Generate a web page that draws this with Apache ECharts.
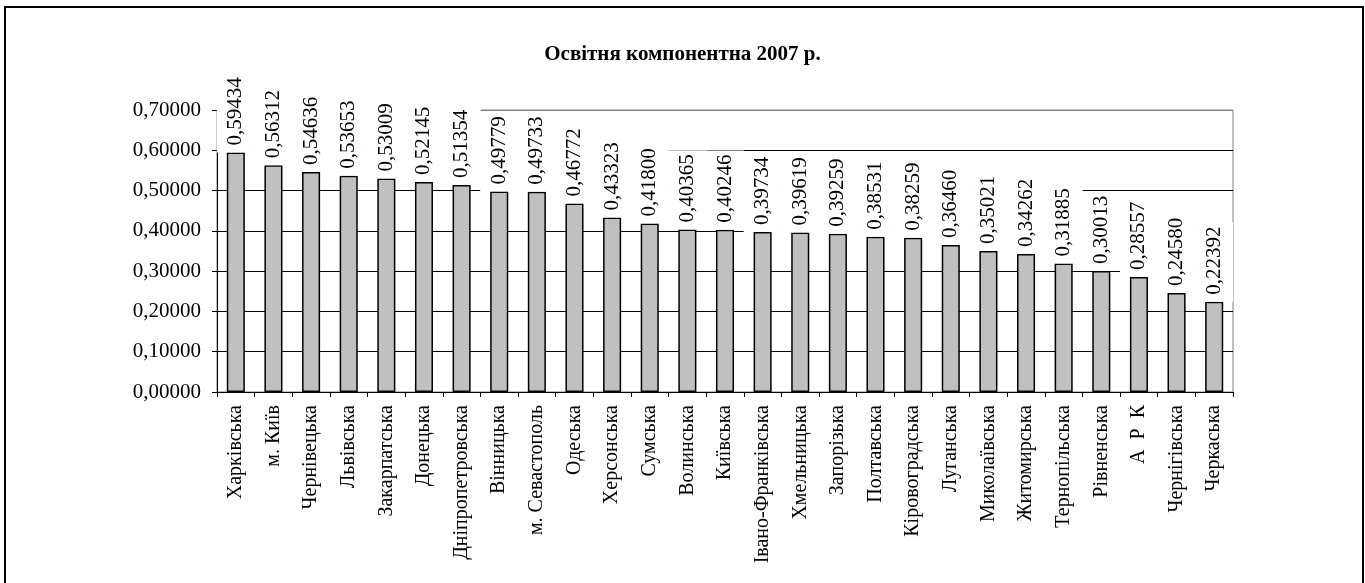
<!DOCTYPE html>
<html>
<head>
<meta charset="utf-8">
<script src="https://cdn.jsdelivr.net/npm/echarts@6/dist/echarts.min.js"></script>
<style>
  html, body { margin: 0; padding: 0; background: #fff; }
  #chart { width: 1365px; height: 583px; }
</style>
</head>
<body>
<div id="chart"></div>
<script>
// Regions of Ukraine, educational component index, 2007
const regions = [
  'Харківська', 'м. Київ', 'Чернівецька', 'Львівська', 'Закарпатська',
  'Донецька', 'Дніпропетровська', 'Вінницька', 'м. Севастополь', 'Одеська',
  'Херсонська', 'Сумська', 'Волинська', 'Київська', 'Івано-Франківська',
  'Хмельницька', 'Запорізька', 'Полтавська', 'Кіровоградська', 'Луганська',
  'Миколаївська', 'Житомирська', 'Тернопільська', 'Рівненська', 'А  Р  К',
  'Чернігівська', 'Черкаська'
];
const indexValues = [
  0.59434, 0.56312, 0.54636, 0.53653, 0.53009,
  0.52145, 0.51354, 0.49779, 0.49733, 0.46772,
  0.43323, 0.41800, 0.40365, 0.40246, 0.39734,
  0.39619, 0.39259, 0.38531, 0.38259, 0.36460,
  0.35021, 0.34262, 0.31885, 0.30013, 0.28557,
  0.24580, 0.22392
];
const chartTitle = 'Освітня компонентна 2007 р.';
const yMin = 0, yMax = 0.7, yStep = 0.1;

const fmt = v => Number(v).toFixed(5).replace('.', ',');
const serif = '"Liberation Serif", "Times New Roman", serif';

const chart = echarts.init(document.getElementById('chart'), null, { renderer: 'canvas' });
chart.setOption({
  animation: false,
  backgroundColor: '#fff',
  textStyle: { fontFamily: serif },
  title: {
    text: chartTitle,
    left: 'center',
    top: 39,
    textStyle: { fontFamily: serif, fontWeight: 'bold', fontSize: 21, color: '#000' }
  },
  graphic: [{
    type: 'rect',
    shape: { x: 5, y: 7, width: 1358, height: 620 },
    style: { fill: 'none', stroke: '#000', lineWidth: 2 },
    silent: true,
    z: 100
  }],
  grid: {
    left: 217, right: 132, top: 110, bottom: 191,
    show: true, borderColor: '#808080', borderWidth: 1, backgroundColor: 'transparent'
  },
  xAxis: {
    type: 'category',
    data: regions,
    axisLine: { lineStyle: { color: '#000', width: 1 } },
    axisTick: { show: true, length: 5, lineStyle: { color: '#000' } },
    axisLabel: {
      rotate: 90, interval: 0, margin: 13, color: '#000',
      fontFamily: serif, fontSize: 20
    }
  },
  yAxis: {
    type: 'value',
    min: yMin, max: yMax, interval: yStep,
    axisLine: { show: true, lineStyle: { color: '#000', width: 1 } },
    axisTick: { show: true, length: 5, lineStyle: { color: '#000' } },
    axisLabel: {
      formatter: fmt, margin: 16, color: '#000',
      fontFamily: serif, fontSize: 21
    },
    splitLine: {
      show: true,
      lineStyle: { color: ['#000', '#000', '#000', '#000', '#000', '#000', '#000', '#808080'], width: 1 }
    }
  },
  series: [{
    type: 'bar',
    data: indexValues,
    barCategoryGap: '52%',
    itemStyle: { color: '#c0c0c0', borderColor: '#000', borderWidth: 1.5 },
    label: {
      show: true,
      position: 'top',
      rotate: 90,
      align: 'left',
      verticalAlign: 'middle',
      distance: 0,
      formatter: p => fmt(p.value),
      fontFamily: serif,
      fontSize: 21,
      lineHeight: 21,
      color: '#000',
      backgroundColor: '#fff',
      padding: [8.5, 4, 8.5, 7]
    }
  }]
});
</script>
</body>
</html>
